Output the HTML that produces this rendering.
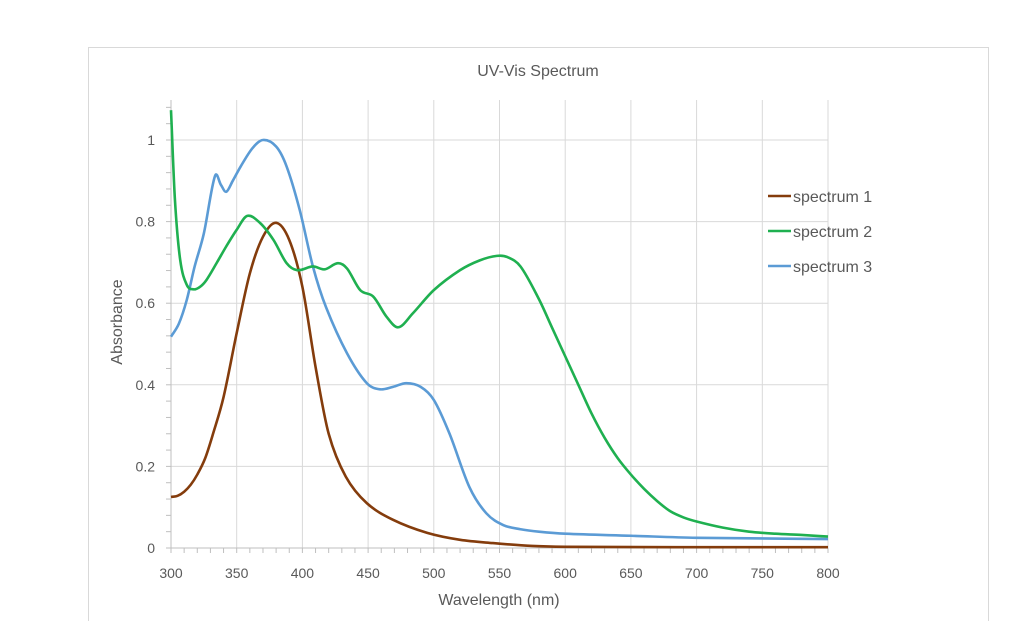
<!DOCTYPE html>
<html><head><meta charset="utf-8"><style>
body{margin:0;background:#fff;}
svg{display:block;font-family:"Liberation Sans",sans-serif;}
</style></head><body>
<svg id="chart" width="1024" height="621">
<rect x="88.5" y="47.5" width="900" height="600" fill="#fff" stroke="#d9d9d9"/>
<text x="538" y="76" text-anchor="middle" font-size="16" fill="#595959">UV-Vis Spectrum</text>
<g id="grid"></g><g id="axes"></g><g id="series"></g>
<text x="499" y="605" text-anchor="middle" font-size="16" fill="#595959">Wavelength (nm)</text>
<text transform="translate(122,322) rotate(-90)" text-anchor="middle" font-size="16" fill="#595959">Absorbance</text>
<g id="legend"></g>
</svg>
<script>
const xTicks=[300,350,400,450,500,550,600,650,700,750,800];
const yTicks=[0,0.2,0.4,0.6,0.8,1];
const seriesNames=["spectrum 1","spectrum 2","spectrum 3"];
const seriesColors=["#843c0c","#1fb050","#5b9bd5"];
const s1x=[300,305,310,315,320,326,332,340,350,360,370,380,390,400,410,420,433,449,469,495,520,545,575,600,700,800];
const s1y=[0.125,0.128,0.138,0.155,0.18,0.22,0.28,0.37,0.527,0.673,0.763,0.797,0.755,0.64,0.444,0.28,0.175,0.11,0.069,0.037,0.02,0.012,0.005,0.003,0.002,0.002];
const s2x=[300,303,307,312,317,322,327,335,342,350,358,368,378,388,396,408,417,427,434,444,454,464,473,484,500,520,535,548,556,566,580,590,600,610,620,630,640,650,660,670,680,690,700,720,740,760,780,800];
const s2y=[1.073,0.853,0.706,0.645,0.634,0.64,0.657,0.7,0.739,0.78,0.814,0.796,0.755,0.698,0.681,0.69,0.683,0.698,0.685,0.632,0.616,0.567,0.541,0.575,0.632,0.681,0.705,0.716,0.713,0.69,0.61,0.54,0.47,0.4,0.33,0.27,0.22,0.18,0.145,0.115,0.09,0.075,0.065,0.05,0.04,0.035,0.032,0.028];
const s3x=[300,306,312,318,325,333.5,338,342,347,353,362,370,380,388,398,408,418,434,449,459,469,479,490,500,512,527,540,553,566,580,600,650,700,800];
const s3y=[0.518,0.55,0.608,0.69,0.771,0.912,0.89,0.873,0.9,0.935,0.98,1.0,0.984,0.935,0.828,0.69,0.59,0.477,0.404,0.389,0.395,0.404,0.395,0.363,0.28,0.15,0.085,0.056,0.046,0.04,0.035,0.03,0.025,0.022];
const allX=[s1x,s2x,s3x], allY=[s1y,s2y,s3y];
const X0=171,X1=828,Y0=548,YTOP=100;
const sx=v=>X0+(v-300)/500*(X1-X0);
const sy=v=>Y0-v*408;
const NS="http://www.w3.org/2000/svg";
function mk(tag,attrs,parent){const e=document.createElementNS(NS,tag);for(const k in attrs)e.setAttribute(k,attrs[k]);parent.appendChild(e);return e;}
const grid=document.getElementById('grid'),axes=document.getElementById('axes'),ser=document.getElementById('series'),leg=document.getElementById('legend');
xTicks.forEach(t=>{
 if(t>300){const l=mk('line',{x1:sx(t),x2:sx(t),y1:YTOP,y2:Y0,stroke:'#d9d9d9','stroke-width':1},grid);
 
 }
 const tx=mk('text',{x:sx(t),y:Y0+30,'text-anchor':'middle','font-size':14,fill:'#595959'},axes);tx.textContent=t;
 
 
});
yTicks.forEach(t=>{
 if(t>0){const l=mk('line',{x1:X0,x2:X1,y1:sy(t),y2:sy(t),stroke:'#d9d9d9','stroke-width':1},grid);
 
 }
 const tx=mk('text',{x:X0-16,y:sy(t)+5,'text-anchor':'end','font-size':14,fill:'#595959'},axes);tx.textContent=t;
 
 
});
for(let v=300;v<=800;v+=10){mk('line',{x1:sx(v),x2:sx(v),y1:Y0,y2:Y0+5,stroke:'#bfbfbf'},axes);}
for(let k=0;k<=27;k++){mk('line',{x1:X0-5,x2:X0,y1:sy(k*0.04),y2:sy(k*0.04),stroke:'#bfbfbf'},axes);}
mk('line',{x1:X0,x2:X0,y1:YTOP,y2:Y0,stroke:'#bfbfbf'},axes);
mk('line',{x1:X0,x2:X1,y1:Y0,y2:Y0,stroke:'#bfbfbf'},axes);
function smooth(xs,ys){const p=xs.map((x,i)=>[sx(x),sy(ys[i])]);let d=`M${p[0][0]},${p[0][1]}`;
 const n=p.length;const tan=p.map((b,i)=>{const a=p[i-1]||b,c=p[i+1]||b;return[(c[0]-a[0]),(c[1]-a[1])];});
 for(let i=0;i<n-1;i++){const b=p[i],c=p[i+1];const h=c[0]-b[0];
 const ta=tan[i],tb=tan[i+1];const ka=ta[0]?h/ta[0]/3:0,kb=tb[0]?h/tb[0]/3:0;
 d+=` C${b[0]+ta[0]*ka},${b[1]+ta[1]*ka} ${c[0]-tb[0]*kb},${c[1]-tb[1]*kb} ${c[0]},${c[1]}`;}return d;}
[0,2,1].forEach(i=>{
 const p=mk('path',{d:smooth(allX[i],allY[i]),fill:'none',stroke:seriesColors[i],'stroke-width':2.6,'stroke-linejoin':'round'},ser);
 
 
});
seriesNames.forEach((n,i)=>{
 const y=196+i*35;
 const l=mk('line',{x1:768,x2:791,y1:y,y2:y,stroke:seriesColors[i],'stroke-width':2.6},leg);
 
 
 const t=mk('text',{x:793,y:y+6,'font-size':16,fill:'#595959'},leg);t.textContent=n;
 
 
});
</script>
</body></html>
